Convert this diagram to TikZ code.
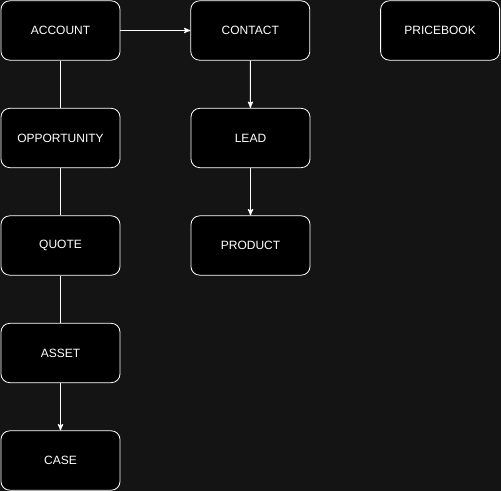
\documentclass[tikz,border=0pt]{standalone}
\usepackage{fontspec}
\setmainfont{Liberation Sans}
\usetikzlibrary{arrows,positioning}

\begin{document}
\begin{tikzpicture}[x=0.75pt,y=-0.75pt,>=stealth',semithick,draw=white,
  node distance=80.6pt and 52.5pt]
  \tikzstyle{entity}=[draw=white,fill=black,text=white,rounded corners=6.5pt,
    minimum width=89.25pt,minimum height=44.5pt,inner sep=0pt,font=\fontsize{9}{11}\selectfont]

  \fill[black!92] (0,0) rectangle (501,491);
  \useasboundingbox (0,0) rectangle (501,491);

  \node[entity] (account)                   at (60.5,30.5) {ACCOUNT};
  \node[entity] (contact)    [right=of account] {CONTACT};
  \node[entity] (pricebook)  [right=of contact] {PRICEBOOK};
  \node[entity] (opportunity) at (60.5,138) {OPPORTUNITY};
  \node[entity] (quote)       at (60.5,245.5) {QUOTE};
  \node[entity] (asset)       at (60.5,353) {ASSET};
  \node[entity] (case)        at (60.5,460.5) {CASE};
  \node[entity] (lead)        at (250.5,138) {LEAD};
  \node[entity] (product)     at (250.5,245.5) {PRODUCT};

  \path[white,line width=0.75pt]
  (account) edge[->] (contact)
  (account) edge (opportunity)
  (opportunity) edge (quote)
  (quote) edge (asset)
  (asset) edge[->] (case)
  (contact) edge[->] (lead)
  (lead) edge[->] (product);
\end{tikzpicture}
\end{document}
